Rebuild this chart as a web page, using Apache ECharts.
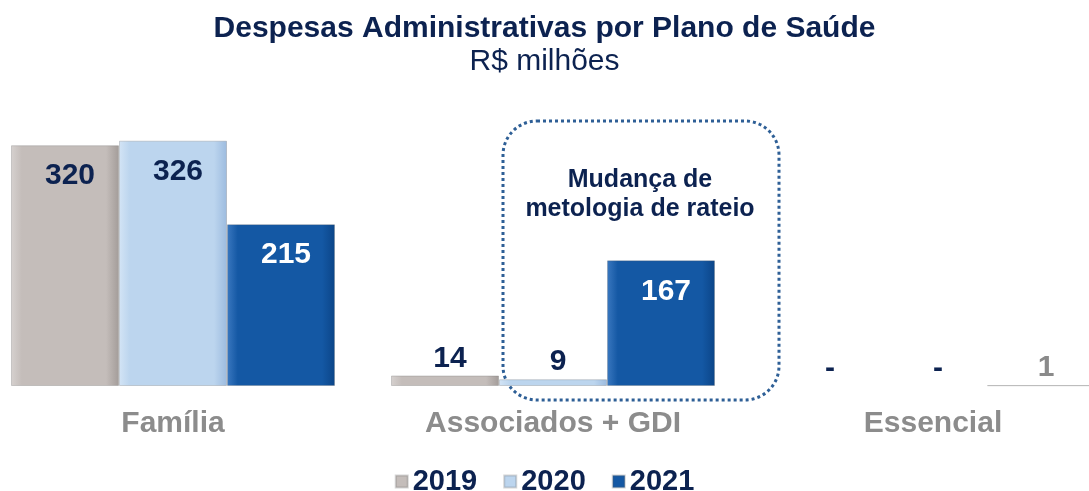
<!DOCTYPE html>
<html>
<head>
    <meta charset="utf-8">
    <title>Despesas Administrativas</title>
    <script src="https://cdn.jsdelivr.net/npm/echarts@6/dist/echarts.min.js"></script>
    <style>html,body{margin:0;padding:0;background:#fff;}</style>
</head>
<body>
    <div id="main" style="width:1089px;height:491px;"></div>
    <script type="text/javascript">
        var categories = ['Família', 'Associados + GDI', 'Essencial'];
        var years = ['2019', '2020', '2021'];
        var values2019 = [320, 14, 0];
        var values2020 = [326, 9, 0];
        var values2021 = [215, 167, 1];

        var navy = '#0c2250';

        function grad(left, mid, right) {
            return new echarts.graphic.LinearGradient(0, 0, 1, 0, [
                {offset: 0, color: left},
                {offset: 0.1, color: mid},
                {offset: 0.88, color: mid},
                {offset: 1, color: right}
            ]);
        }
        var fills = [
            grad('#d6d1cf', '#c4bdba', '#a39c99'),
            grad('#d3e4f5', '#bcd5ee', '#9cbbdf'),
            grad('#3a78c0', '#1458a4', '#0b4588')
        ];

        // big bars get the label inside, small ones above
        function barData(vals, yearIdx) {
            return vals.map(function (v, i) {
                var big = v > 50;
                var lab = {
                    position: big ? 'insideTop' : 'top',
                    distance: big ? 16 : 2,
                    offset: [5, 0],
                    color: (yearIdx === 2 && big) ? '#ffffff' : (v === 1 ? '#8a8a8a' : navy)
                };
                var d = {value: v, label: lab};
                if (v === 0) d.itemStyle = {borderWidth: 0};
                return d;
            });
        }

        var myChart = echarts.init(document.getElementById('main'));
        var seriesVals = [values2019, values2020, values2021];

        var option = {
            animation: false,
            title: {
                text: 'Despesas Administrativas por Plano de Saúde',
                subtext: 'R$ milhões',
                left: 'center',
                top: 9,
                itemGap: 3,
                textStyle: {fontFamily: 'Liberation Sans', fontSize: 30, fontWeight: 'bold', color: navy},
                subtextStyle: {fontFamily: 'Liberation Sans', fontSize: 30, color: navy}
            },
            legend: {
                top: 462,
                left: 'center',
                itemWidth: 12,
                itemHeight: 12,
                itemGap: 26,
                icon: 'rect',
                textStyle: {fontFamily: 'Liberation Sans', fontSize: 29, fontWeight: 'bold', color: navy}
            },
            grid: {left: -17, right: -34, top: 85, bottom: 105, outerBoundsMode: 'none'},
            xAxis: {
                type: 'category',
                data: categories,
                axisLine: {show: false},
                axisTick: {show: false},
                axisLabel: {margin: 23, fontFamily: 'Liberation Sans', fontSize: 30, fontWeight: 'bold', color: '#8c8c8c'}
            },
            yAxis: {type: 'value', min: 0, max: 400, show: false, splitLine: {show: false}},
            series: years.map(function (y, k) {
                return {
                    name: y,
                    type: 'bar',
                    barWidth: 108,
                    barGap: '0%',
                    data: barData(seriesVals[k], k),
                    itemStyle: {color: fills[k], borderColor: 'rgba(90,90,90,0.25)', borderWidth: 1},
                    label: {
                        show: true,
                        fontFamily: 'Liberation Sans',
                        fontSize: 30,
                        fontWeight: 'bold',
                        formatter: function (p) { return p.value === 0 ? '-' : p.value; }
                    }
                };
            }),
            graphic: [
                {
                    type: 'rect',
                    shape: {x: 503, y: 121, width: 276, height: 279, r: 34},
                    style: {fill: 'none', stroke: '#2e5f96', lineWidth: 3, lineDash: [3, 3]}
                },
                {
                    type: 'text',
                    x: 640,
                    y: 195,
                    style: {
                        text: 'Mudança de\nmetologia de rateio',
                        align: 'center',
                        verticalAlign: 'middle',
                        lineHeight: 29,
                        fontFamily: 'Liberation Sans',
                        fontSize: 25,
                        fontWeight: 'bold',
                        fill: navy
                    }
                }
            ]
        };

        myChart.setOption(option);
    </script>
</body>
</html>
